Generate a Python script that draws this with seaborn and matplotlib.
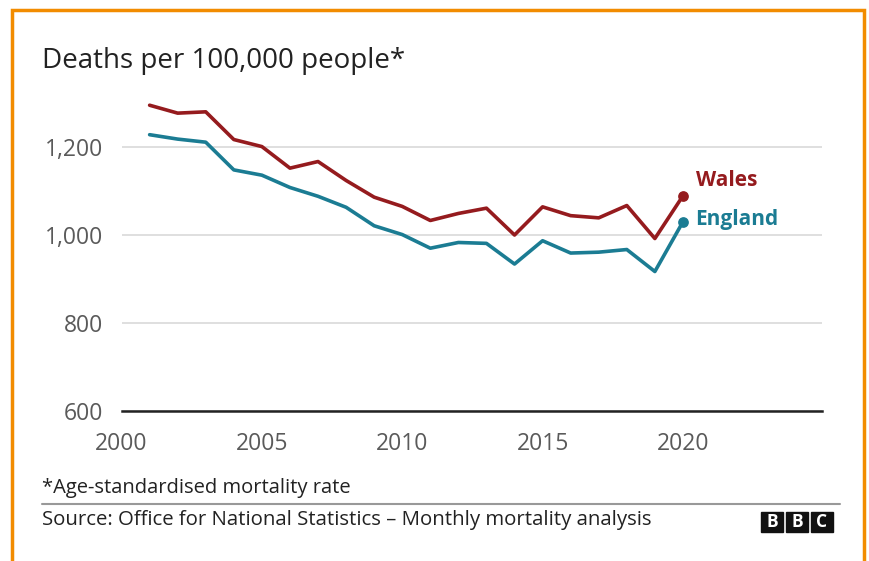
import matplotlib
matplotlib.use("Agg")
import matplotlib.pyplot as plt
import matplotlib.patches as mpatches
import seaborn as sns
import pandas as pd

years = list(range(2001, 2021))
wales = [1295, 1277, 1280, 1217, 1201, 1152, 1167, 1124, 1086, 1065,
         1033, 1049, 1061, 1000, 1064, 1044, 1039, 1067, 992, 1089]
england = [1228, 1218, 1211, 1148, 1136, 1108, 1088, 1063, 1021, 1001,
           970, 983, 981, 934, 987, 959, 961, 967, 917, 1030]
series_names = ["Wales", "England"]
y_ticks = [600, 800, 1000, 1200]
y_tick_labels = ["600", "800", "1,000", "1,200"]
x_ticks = [2000, 2005, 2010, 2015, 2020]

title = "Deaths per 100,000 people*"
footnote = "*Age-standardised mortality rate"
source = "Source: Office for National Statistics \u2013 Monthly mortality analysis"

colors = {"Wales": "#951B1E", "England": "#1B7C93"}

df = pd.DataFrame({
    "year": years * 2,
    "rate": wales + england,
    "country": ["Wales"] * len(years) + ["England"] * len(years),
})

sns.set_theme(style="white")
plt.rcParams["font.family"] = ["Open Sans", "DejaVu Sans"]

fig = plt.figure(figsize=(8.70, 5.61), dpi=100)
fig.patch.set_facecolor("white")
ax = fig.add_axes([0.1397, 0.2674, 0.805, 0.5568])

sns.lineplot(data=df, x="year", y="rate", hue="country", palette=colors,
             hue_order=series_names, linewidth=2.6, ax=ax, legend=False)

# end points and labels
for name in series_names:
    sub = df[df["country"] == name]
    last = sub.iloc[-1]
    ax.scatter([last["year"]], [last["rate"]], s=45, color=colors[name], zorder=5)

ax.text(2020.45, wales[-1] + 36, "Wales", color=colors["Wales"], fontsize=15,
        fontweight="bold", va="center", ha="left")
ax.text(2020.45, england[-1] + 6, "England", color=colors["England"], fontsize=15,
        fontweight="bold", va="center", ha="left")

ax.set_xlim(2000, 2024.95)
ax.set_ylim(600, 1310)
ax.set_yticks(y_ticks)
ax.set_yticklabels(y_tick_labels)
ax.set_xticks(x_ticks)
ax.set_xlabel("")
ax.set_ylabel("")
ax.grid(axis="y", color="#dcdcdc", linewidth=1.3)
ax.grid(axis="x", visible=False)
ax.set_axisbelow(True)
for s in ("top", "right", "left"):
    ax.spines[s].set_visible(False)
ax.spines["bottom"].set_color("#222222")
ax.spines["bottom"].set_linewidth(1.8)
ax.spines["bottom"].set_zorder(6)
ax.tick_params(axis="y", length=0, labelsize=16.5, labelcolor="#5a5a5a", pad=13)
ax.tick_params(axis="x", length=6, width=1.2, color="#444444", direction="out",
               labelsize=16.5, labelcolor="#5a5a5a", pad=9)

# titles / notes
fig.text(42 / 870, 1 - 61 / 561, title, fontsize=20, color="#222222", va="center", ha="left")
fig.text(42 / 870, 1 - 488 / 561, footnote, fontsize=14.5, color="#222222", va="center", ha="left")
fig.text(42 / 870, 1 - 520 / 561, source, fontsize=14.7, color="#222222", va="center", ha="left")

# separator line
fig.add_artist(plt.Line2D([42 / 870, 840 / 870], [1 - 504 / 561, 1 - 504 / 561],
                          transform=fig.transFigure, color="#999999", linewidth=1.5))

# BBC logo
for i, letter in enumerate("BBC"):
    x0 = 761 + i * 25
    fig.patches.append(mpatches.Rectangle((x0 / 870, 1 - 532 / 561), 22 / 870, 20 / 561,
                                          transform=fig.transFigure, color="#111111"))
    fig.text((x0 + 11) / 870, 1 - 522 / 561, letter, fontsize=12.5, fontweight="bold",
             color="white", ha="center", va="center")

# orange frame
fig.patches.append(mpatches.Rectangle((12 / 870, -0.02), 852 / 870, 1 - 10 / 561 + 0.02,
                                      transform=fig.transFigure, fill=False,
                                      edgecolor="#F28C00", linewidth=2.5))

fig.savefig("out.png", dpi=100)
